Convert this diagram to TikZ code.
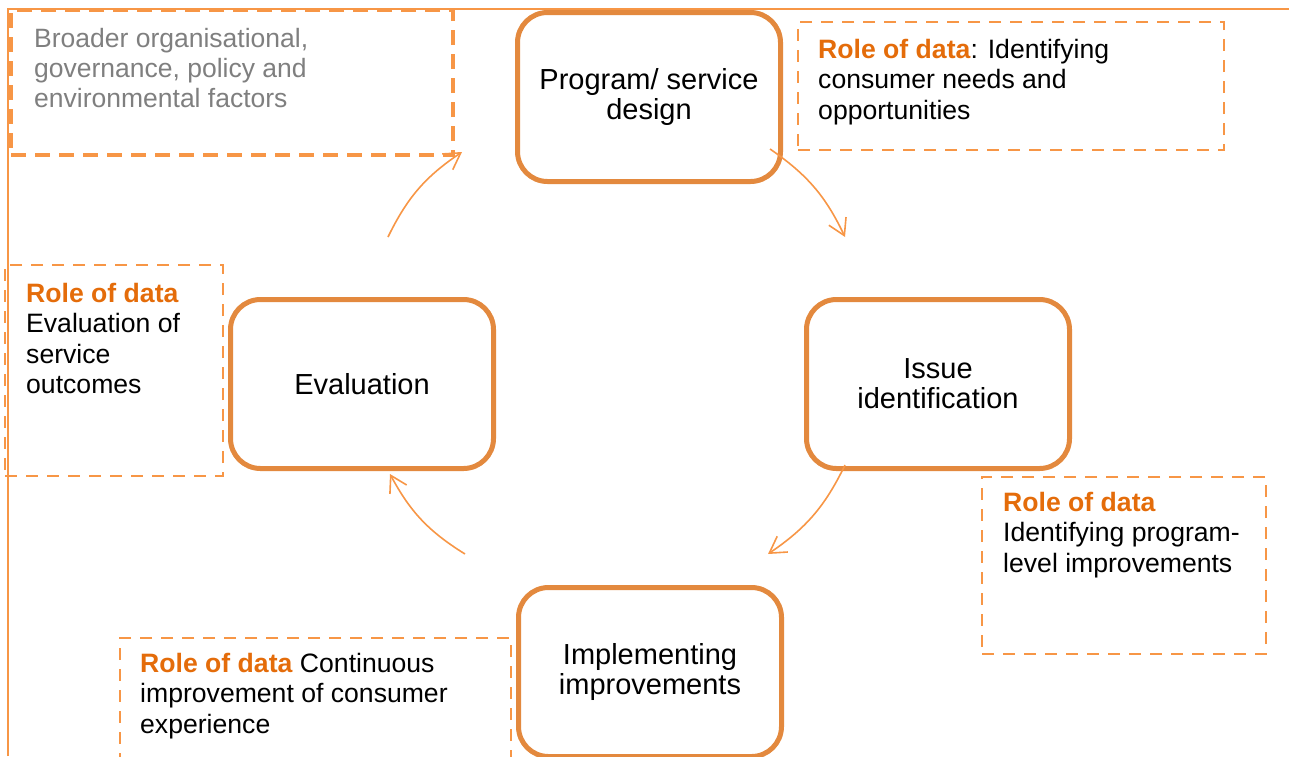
\documentclass[tikz,border=0pt]{standalone}
\usepackage{fontspec}
\setmainfont{Liberation Sans}
\usetikzlibrary{arrows.meta, positioning, calc}

\definecolor{colStage}{RGB}{227, 137, 62}
\definecolor{colDash}{RGB}{247, 150, 70}
\definecolor{colRole}{RGB}{228, 108, 10}
\definecolor{colNote}{RGB}{127, 127, 127}

\newcommand{\roleof}{\textcolor{colRole}{\textbf{Role of data}}}

\tikzset{
    stage/.style={draw=colStage, line width=5pt, rounded corners=30pt,
        minimum width=263pt, minimum height=169pt, inner sep=0pt,
        align=center, font=\fontsize{29}{30}\selectfont},
    rolebox/.style={draw=colDash, line width=2.5pt, dash pattern=on 12pt off 9pt,
        inner sep=0pt},
    roletext/.style={anchor=north west, align=left, inner sep=0pt,
        font=\fontsize{26.6}{30.5}\selectfont},
    cyclearrow/.style={draw=colDash, line width=1.6pt, bend left=15,
        -{Straight Barb[length=16pt, width=19pt, line width=1.6pt]}}
}

\begin{document}
\begin{tikzpicture}[x=1pt, y=-1pt]
    \useasboundingbox (0, 0) rectangle (1289, 756);

    % --- outer frame (only top and left edge show) ---
    \draw[colDash, line width=1.5pt] (8, 756) -- (8, 9) -- (1289, 9);

    % --- context box ---
    \node[rolebox, line width=3.5pt, dash pattern=on 15pt off 9pt,
        minimum width=442pt, minimum height=145pt] (ctx) at (232, 82.5) {};
    \node[roletext, text=colNote, font=\fontsize{26.5}{30}\selectfont] (ctxtxt)
        at (34, 28) {Broader organisational,\\ governance, policy and\\ environmental factors};

    % --- data role boxes ---
    \node[rolebox, minimum width=426pt, minimum height=128pt] (roleP) at (1011, 86) {};
    \node[roletext] (roletxtP) at (818, 39)
        {\roleof: Identifying\\ consumer needs and\\ opportunities};

    \node[rolebox, minimum width=284pt, minimum height=177pt] (roleI) at (1124, 565.5) {};
    \node[roletext] (roletxtI) at (1003, 492)
        {\roleof\\ Identifying program-\\ level improvements};

    \node[rolebox, minimum width=391pt, minimum height=132pt] (roleM) at (315.5, 704) {};
    \node[roletext] (roletxtM) at (140, 653)
        {\roleof{} Continuous\\ improvement of consumer\\ experience};

    \node[rolebox, minimum width=218pt, minimum height=211pt] (roleE) at (114, 370.5) {};
    \node[roletext] (roletxtE) at (26, 283)
        {\roleof\\ Evaluation of\\ service\\ outcomes};

    % --- cycle stages ---
    \node[stage] (design) at (649, 97) {Program/ service\\ design};
    \node[stage] (issue) at (938, 384) {Issue\\ identification};
    \node[stage] (impl) at (650, 672) {Implementing\\ improvements};
    \node[stage] (eval) at (362, 384) {Evaluation};

    % --- arrows round the cycle ---
    \coordinate (d1) at ([shift={(-13, -35)}]design.south east);
    \coordinate (i0) at ([shift={(-93, -60)}]issue.north);
    \coordinate (i1) at ([shift={(-93, -6)}]issue.south);
    \coordinate (m0) at ([shift={(118, -31)}]impl.north);
    \coordinate (m1) at ([shift={(-185, -31)}]impl.north);
    \coordinate (e0) at ([shift={(28, 3)}]eval.south);
    \coordinate (e1) at ([shift={(26, -60)}]eval.north);
    \coordinate (d0) at ([shift={(-53, -32)}]design.south west);

    \draw[cyclearrow] (d1) to (i0);
    \draw[cyclearrow] (i1) to (m0);
    \draw[cyclearrow] (m1) to (e0);
    \draw[cyclearrow] (e1) to (d0);
\end{tikzpicture}
\end{document}
